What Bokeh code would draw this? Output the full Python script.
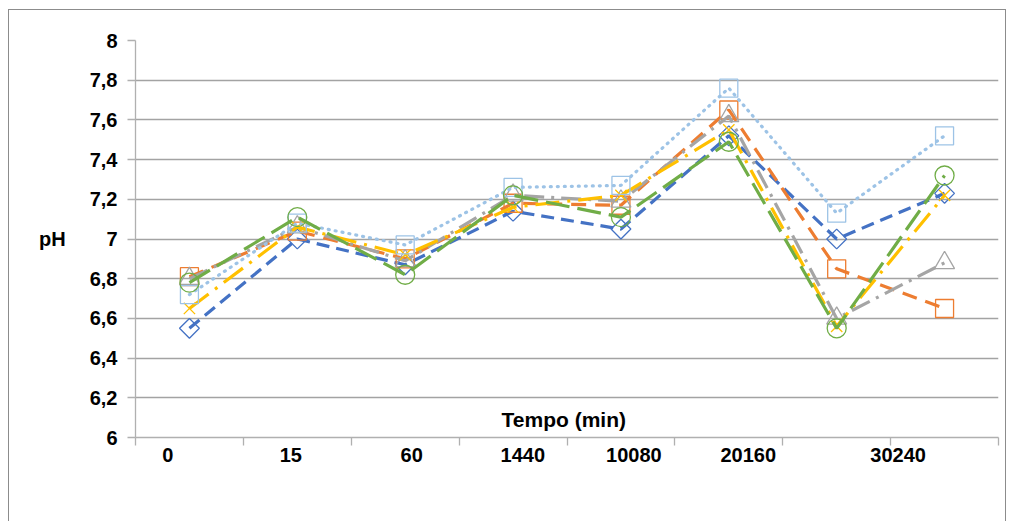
from bokeh.plotting import figure
from bokeh.models import Range1d, FixedTicker
from bokeh.embed import file_html
from bokeh.resources import INLINE
from bokeh.core.properties import value
import math

# ---- data ----
x_labels = ["0", "15", "60", "1440", "10080", "20160", "30240"]
y_ticks = [6.0, 6.2, 6.4, 6.6, 6.8, 7.0, 7.2, 7.4, 7.6, 7.8, 8.0]
y_tick_labels = ["6", "6,2", "6,4", "6,6", "6,8", "7", "7,2", "7,4", "7,6", "7,8", "8"]

s_blue = [6.55, 7.00, 6.87, 7.14, 7.05, 7.52, 7.00, 7.23]
s_orange = [6.81, 7.04, 6.90, 7.18, 7.17, 7.65, 6.85, 6.65]
s_gray = [6.80, 7.06, 6.89, 7.22, 7.19, 7.62, 6.60, 6.88]
s_yellow = [6.65, 7.06, 6.92, 7.16, 7.22, 7.55, 6.56, 7.22]
s_lightblue = [6.72, 7.08, 6.97, 7.26, 7.27, 7.76, 7.13, 7.52]
s_green = [6.78, 7.11, 6.82, 7.22, 7.11, 7.49, 6.55, 7.32]

# ---- layout constants ----
label_pos = [0.30, 1.44, 2.56, 3.59, 4.62, 5.68, 7.07]
n_cat = len(s_blue)
xs = [i + 0.5 for i in range(n_cat)]

FONT = "Liberation Sans"
FS = "20px"
AX = "#b0b0b0"

p = figure(width=998, height=512, output_backend="svg", toolbar_location=None,
           x_range=Range1d(0, n_cat), y_range=Range1d(6, 8),
           min_border_left=126, min_border_right=9, min_border_top=30,
           min_border_bottom=512 - 30 - 397)
p.styles = {"border-top": "1px solid #8c8c8c", "border-left": "1px solid #8c8c8c",
            "border-right": "1px solid #8c8c8c", "margin-top": "9px",
            "margin-left": "8px"}
p.outline_line_color = None
p.background_fill_color = "white"
p.border_fill_color = "white"

# y axis
p.yaxis.ticker = FixedTicker(ticks=y_ticks)
p.yaxis.major_label_overrides = {t: l for t, l in zip(y_ticks, y_tick_labels)}
p.yaxis.axis_line_color = AX
p.yaxis.axis_line_width = 1.3
p.yaxis.major_tick_line_color = AX
p.yaxis.major_tick_line_width = 1.3
p.yaxis.major_tick_out = 8
p.yaxis.major_tick_in = 0
p.yaxis.minor_tick_line_color = None
p.yaxis.major_label_standoff = 10
p.yaxis.major_label_text_font = FONT
p.yaxis.major_label_text_font_style = "bold"
p.yaxis.major_label_text_font_size = FS
p.yaxis.major_label_text_color = "black"
p.yaxis.axis_label = "pH"
p.yaxis.axis_label_orientation = "horizontal"
p.yaxis.axis_label_text_font = FONT
p.yaxis.axis_label_text_font_style = "bold"
p.yaxis.axis_label_text_font_size = FS
p.yaxis.axis_label_text_color = "black"
p.yaxis.axis_label_standoff = 21

# x axis
p.xaxis.ticker = FixedTicker(ticks=label_pos, minor_ticks=list(range(n_cat + 1)))
p.xaxis.major_label_overrides = {t: l for t, l in zip(label_pos, x_labels)}
p.xaxis.axis_line_color = AX
p.xaxis.axis_line_width = 1.3
p.xaxis.major_tick_line_color = None
p.xaxis.major_tick_out = 0
p.xaxis.major_tick_in = 0
p.xaxis.minor_tick_line_color = AX
p.xaxis.minor_tick_line_width = 1.3
p.xaxis.minor_tick_out = 8
p.xaxis.minor_tick_in = 0
p.xaxis.major_label_standoff = 2
p.xaxis.major_label_text_font = FONT
p.xaxis.major_label_text_font_style = "bold"
p.xaxis.major_label_text_font_size = FS
p.xaxis.major_label_text_color = "black"

p.xgrid.grid_line_color = None
p.ygrid.grid_line_color = "#a3a3a3"
p.ygrid.grid_line_width = 1.3

series = [
    (s_blue, "#4472C4", "13 7", "butt", "square", 14, math.pi / 4),
    (s_orange, "#ED7D31", "15 9", "butt", "square", 18, 0),
    (s_gray, "#A5A5A5", "20 7 3 7", "butt", "triangle", 20, 0),
    (s_yellow, "#FFC000", "24 8 3 8", "butt", "x", 16, 0),
    (s_lightblue, "#9DC3E6", "1 6", "round", "square", 18, 0),
    (s_green, "#70AD47", "24 8", "butt", "circle", 19, 0),
]
for ys, col, dash, cap, mk, sz, ang in series:
    p.line(xs, ys, line_color=col, line_width=3.2, line_dash=dash, line_cap=cap)
    p.scatter(xs, ys, marker=mk, size=sz, angle=ang, line_color=col,
              line_width=1.3, fill_color=None)

# axis title drawn inside the plot area
p.text(x=[3.97], y=[6.09], text=["Tempo (min)"], text_font=value(FONT),
       text_font_style="bold", text_font_size="21px", text_align="center",
       text_baseline="middle", text_color="black")

open("out.html", "w").write(file_html(p, INLINE))
